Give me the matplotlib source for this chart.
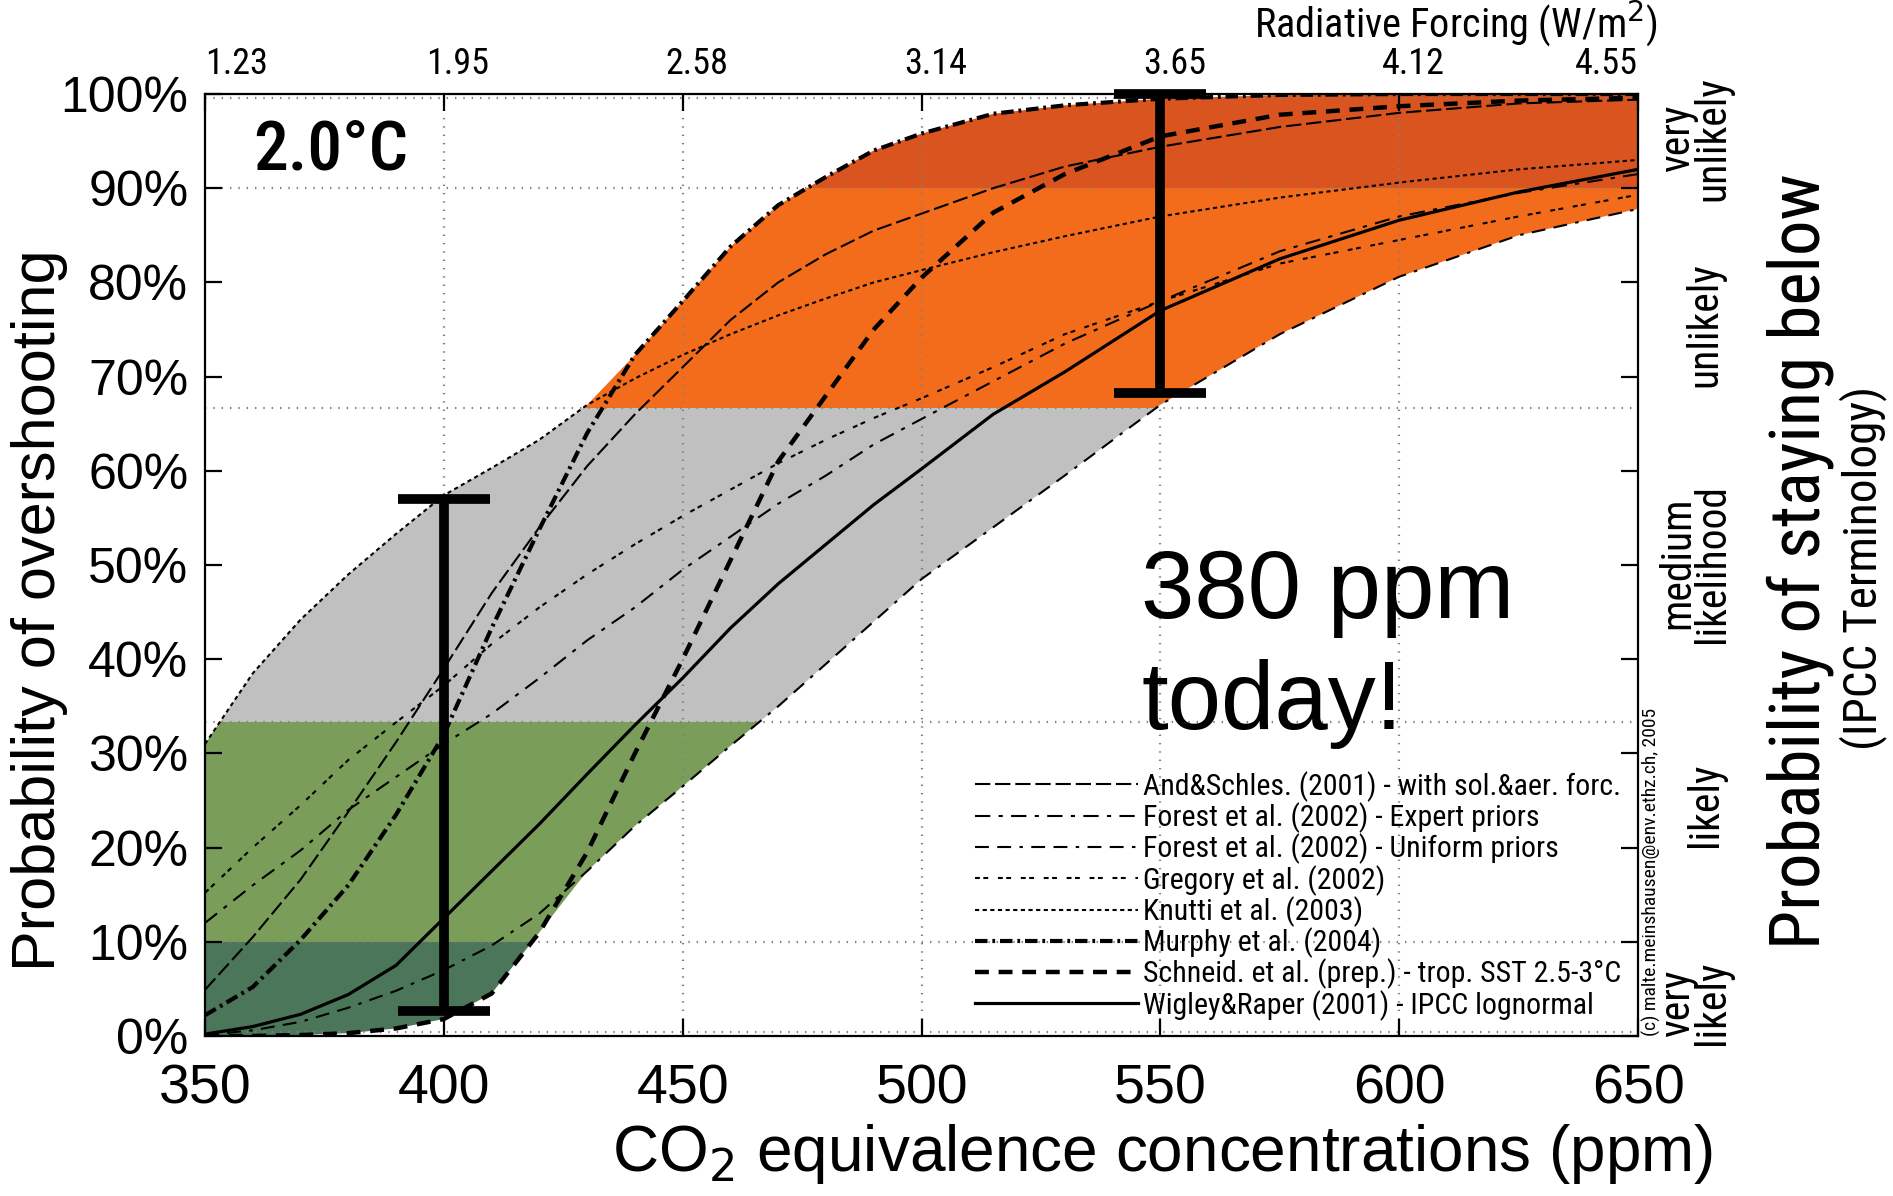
import matplotlib
matplotlib.use('Agg')
import matplotlib.pyplot as plt
import matplotlib.transforms as mtransforms
import numpy as np

plt.rcParams['lines.scale_dashes'] = False

NARROW = ['Roboto Condensed', 'DejaVu Sans Condensed', 'Roboto', 'DejaVu Sans']
ARIAL = ['Liberation Sans', 'DejaVu Sans']

# concentrations (ppm CO2-eq) at which the curves were read
ppm = [350, 360, 370, 380, 390, 400, 410, 420, 430, 440, 450, 460, 470, 480,
       490, 500, 515, 530, 550, 575, 600, 625, 650]

# probability of overshooting 2 degC (%), one list per study
and_schles = [4.9, 10.5, 16.6, 23.8, 31.2, 39, 47, 54, 60.5, 66, 71, 76, 80, 83,
              85.5, 87.3, 90, 92.3, 94.4, 96.5, 98, 99, 99.4]
forest_expert = [12, 16, 19.7, 24, 27.5, 31, 34.2, 38, 42, 45.5, 49.5, 53, 56.5, 59.5,
                 62.8, 65.5, 69.5, 73.5, 78, 83.3, 87, 89.5, 91.5]
forest_uniform = [0.1, 0.6, 1.5, 3, 4.8, 7, 9.6, 13, 17.5, 22.3, 26.5, 30.8, 35, 39.5,
                  44, 48.5, 54, 59.5, 67, 74.5, 80.6, 85, 87.8]
gregory = [15.2, 20, 24.5, 29.3, 33.3, 37.2, 41.6, 45.5, 49, 52.2, 55.2, 58, 60.8, 63.3,
           65.6, 67.7, 71, 74.5, 78, 82, 84.5, 87, 89.3]
knutti = [31, 38.5, 44.2, 49, 53.3, 57.4, 60.3, 63.3, 67, 69.8, 72.3, 74.5, 76.5, 78.3,
          80, 81.3, 83.2, 84.9, 87, 89, 90.6, 92, 93]
murphy = [2.2, 5.2, 10.2, 16, 23.5, 32, 43.3, 53.8, 64, 72.3, 78, 83.8, 88.2, 91.2,
          94, 95.8, 97.9, 98.8, 99.5, 99.9, 100, 100, 100]
schneider = [0, 0, 0.1, 0.3, 0.8, 1.8, 4.5, 11, 19.5, 30, 40, 50.5, 61, 68,
             75, 80.5, 87.4, 91.5, 95.5, 97.8, 98.7, 99.3, 99.6]
wigley = [0.2, 1, 2.3, 4.4, 7.5, 12.5, 17.5, 22.5, 27.8, 33, 38, 43.3, 48, 52.2,
          56.4, 60.2, 66, 70.5, 77, 82.5, 86.6, 89.6, 92]

labels = ['And&Schles. (2001) - with sol.&aer. forc.',
          'Forest et al. (2002) - Expert priors',
          'Forest et al. (2002) - Uniform priors',
          'Gregory et al. (2002)',
          'Knutti et al. (2003)',
          'Murphy et al. (2004)',
          'Schneid. et al. (prep.) - trop. SST 2.5-3°C',
          'Wigley&Raper (2001) - IPCC lognormal']

# IPCC likelihood bands
band_edges = [0, 10, 33.3, 66.7, 90, 100]
band_colors = ['#4b7659', '#7a9d5a', '#c0c0c0', '#f36c1c', '#d9541f']
right_terms = ['very\nlikely', 'likely', 'medium\nlikelihood', 'unlikely', 'very\nunlikely']

# error bars (ppm, low %, high %)
err_x = [400, 550]
err_lo = [2.6, 68.3]
err_hi = [57, 100]

xticks = [350, 400, 450, 500, 550, 600, 650]
forcing = ['1.23', '1.95', '2.58', '3.14', '3.65', '4.12', '4.55']

fig = plt.figure(figsize=(18.93, 11.96), dpi=100)
ax = fig.add_axes([0.1083, 0.1338, 0.757, 0.7876])
ax.set_xlim(350, 650)
ax.set_ylim(0, 100)

curves = [and_schles, forest_expert, forest_uniform, gregory, knutti, murphy, schneider, wigley]
Y = np.array(curves)
upper = Y.max(axis=0)
lower = Y.min(axis=0)
env = ax.fill(np.r_[ppm, ppm[::-1]], np.r_[upper, lower[::-1]],
              facecolor='none', edgecolor='none')[0]
for lo, hi, c in zip(band_edges[:-1], band_edges[1:], band_colors):
    span = ax.axhspan(lo, hi, facecolor=c, lw=0, zorder=1)
    span.set_clip_path(env)

# dotted grid
for x in [400, 450, 500, 550, 600]:
    ax.axvline(x, color='#808080', lw=1.6, ls=(0, (1, 5)), zorder=1.5)
for y in [0.4, 10, 33.3, 66.7, 90, 99.6]:
    ax.axhline(y, color='#808080', lw=1.6, ls=(0, (1, 5)), zorder=1.5)

styles = [dict(lw=1.5, ls=(0, (11, 3.5))),
          dict(lw=1.5, ls=(0, (11, 6, 3, 6))),
          dict(lw=1.5, ls=(0, (10, 6, 10, 6, 2.5, 6))),
          dict(lw=1.5, ls=(0, (3.5, 2.5, 3.5, 7))),
          dict(lw=1.5, ls=(0, (3, 2.5))),
          dict(lw=3.0, ls=(0, (9, 3.5, 2, 3.5))),
          dict(lw=3.2, ls=(0, (10, 7))),
          dict(lw=2.3, ls='-')]
handles = []
for yv, st, lab in zip(curves, styles, labels):
    h, = ax.plot(ppm, yv, color='black', label=lab, zorder=3, **st)
    handles.append(h)

mid = [(a + b) / 2 for a, b in zip(err_lo, err_hi)]
ax.errorbar(err_x, mid, yerr=[np.subtract(mid, err_lo), np.subtract(err_hi, mid)],
            fmt='none', ecolor='black', elinewidth=7, capsize=33, capthick=7,
            zorder=4, clip_on=False)

leg = ax.legend(handles=handles, loc='lower left', bbox_to_anchor=(0.523, -0.006),
                frameon=False, handlelength=5.45, handletextpad=0.15,
                labelspacing=0.02, borderpad=0.2,
                prop={'family': NARROW, 'size': 21.5})
leg.set_zorder(5)

# axes styling
for sp in ax.spines.values():
    sp.set_linewidth(1.6)
ax.set_xticks(xticks)
ax.set_xticklabels([str(v) for v in xticks], family=ARIAL, fontsize=40)
ax.set_yticks(range(0, 101, 10))
ax.set_yticklabels([f'{v}%' for v in range(0, 101, 10)], family=ARIAL, fontsize=36)
ax.tick_params(axis='both', direction='in', length=12, width=1.6, right=True)
ax.tick_params(axis='x', pad=20)
ax.tick_params(axis='y', pad=12)

ax2 = ax.twiny()
ax2.set_xlim(350, 650)
ax2.set_xticks(xticks)
ax2.set_xticklabels(forcing, family=NARROW, fontsize=26)
ax2.tick_params(direction='in', length=12, width=1.6, pad=9)
top_labels = ax2.get_xticklabels()
top_labels[0].set_ha('left')
top_labels[-1].set_ha('right')
shift = mtransforms.ScaledTranslation(0.14, 0, fig.dpi_scale_trans)
for lab in top_labels[1:-1]:
    lab.set_transform(lab.get_transform() + shift)
for sp in ax2.spines.values():
    sp.set_visible(False)

fig.text(0.876, 0.981, 'Radiative Forcing (W/m$^2$)', family=NARROW, fontsize=29,
         ha='right', va='center')

fig.text(0.021, 0.49, 'Probability of overshooting', family=ARIAL, fontsize=44,
         rotation=90, ha='center', va='center')
fig.text(0.614, 0.035, 'CO$_2$ equivalence concentrations (ppm)', family=ARIAL,
         fontsize=46, ha='center', va='center')

ax.text(360, 94, '2.0°C', family=NARROW, fontsize=50, fontweight='medium',
        ha='left', va='center', zorder=6)
ax.text(546, 51.8, '380 ppm\ntoday!', family=ARIAL, fontsize=69, ha='left', va='top',
        linespacing=1.3, zorder=6)

# IPCC terminology on the right
term_y = [0.035, 0.245, 0.502, 0.755, 0.953]
for yy, t in zip(term_y, right_terms):
    xpos = 1.04 if '\n' in t else 1.047
    ax.text(xpos, yy, t, transform=ax.transAxes, rotation=90,
            family=NARROW, fontsize=30, ha='center', va='center', linespacing=0.8)
ax.text(1.113, 0.504, 'Probability of staying below', transform=ax.transAxes,
        rotation=90, family=NARROW, fontsize=51, ha='center', va='center')
ax.text(1.157, 0.497, '(IPCC Terminology)', transform=ax.transAxes,
        rotation=90, family=NARROW, fontsize=34, ha='center', va='center')
ax.text(1.009, 0.0, '(c) malte.meinshausen@env.ethz.ch, 2005', transform=ax.transAxes,
        rotation=90, family=NARROW, fontsize=14, ha='center', va='bottom')

fig.savefig('out.png', dpi=100, facecolor='white')
